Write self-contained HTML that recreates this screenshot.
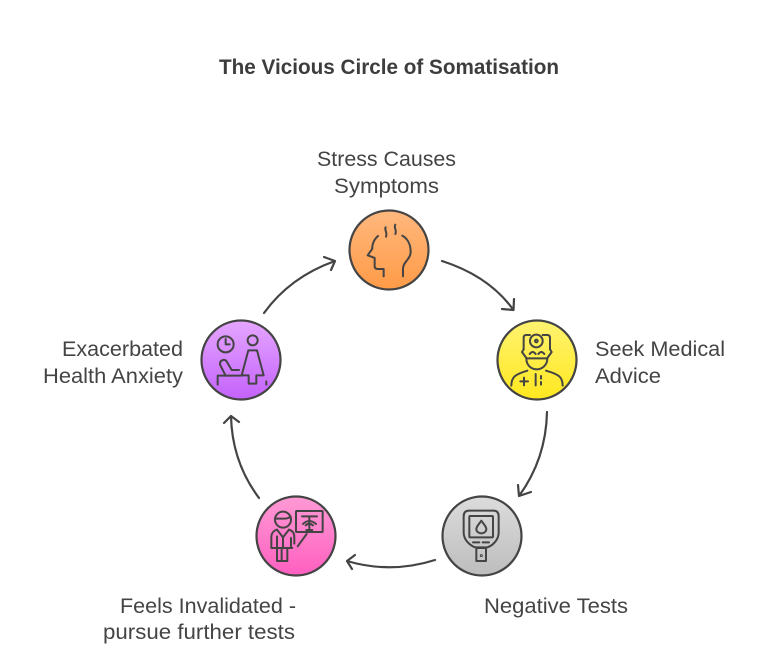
<!DOCTYPE html>
<html><head><meta charset="utf-8"><style>
html,body{margin:0;padding:0;background:#fff;width:765px;height:672px;overflow:hidden}
svg{display:block}
text{font-family:"Liberation Sans",sans-serif;font-size:21px;fill:#444}
.i{fill:none;stroke:#444;stroke-width:6;stroke-linecap:round;stroke-linejoin:round}
.c{stroke:#444;stroke-width:2.2}
.a{fill:none;stroke:#444;stroke-width:2.2;stroke-linecap:round;stroke-linejoin:round}
</style></head><body>
<svg width="765" height="672" viewBox="0 0 765 672" xmlns="http://www.w3.org/2000/svg">
<defs>
<linearGradient id="o" x1="0" y1="0" x2="0" y2="1"><stop offset="0" stop-color="#ffb87e"/><stop offset="1" stop-color="#ff9b47"/></linearGradient>
<linearGradient id="y" x1="0" y1="0" x2="0" y2="1"><stop offset="0" stop-color="#fff270"/><stop offset="1" stop-color="#ffe81f"/></linearGradient>
<linearGradient id="g" x1="0" y1="0" x2="0" y2="1"><stop offset="0" stop-color="#dcdcdc"/><stop offset="1" stop-color="#bdbdbd"/></linearGradient>
<linearGradient id="p" x1="0" y1="0" x2="0" y2="1"><stop offset="0" stop-color="#ff9ad5"/><stop offset="1" stop-color="#ff5fc0"/></linearGradient>
<linearGradient id="v" x1="0" y1="0" x2="0" y2="1"><stop offset="0" stop-color="#e5a6ff"/><stop offset="1" stop-color="#c462fb"/></linearGradient>
</defs>
<rect width="765" height="672" fill="#fff"/>
<text x="219" y="74" font-weight="700" textLength="340" lengthAdjust="spacingAndGlyphs" style="font-weight:700;fill:#3d3d3d">The Vicious Circle of Somatisation</text>
<text x="317" y="166" textLength="139" lengthAdjust="spacingAndGlyphs">Stress Causes</text>
<text x="334" y="193" textLength="105" lengthAdjust="spacingAndGlyphs">Symptoms</text>
<text x="595" y="356" textLength="130" lengthAdjust="spacingAndGlyphs">Seek Medical</text>
<text x="595" y="383" textLength="66" lengthAdjust="spacingAndGlyphs">Advice</text>
<text x="484" y="613" textLength="144" lengthAdjust="spacingAndGlyphs">Negative Tests</text>
<text x="120" y="613" textLength="176" lengthAdjust="spacingAndGlyphs">Feels Invalidated -</text>
<text x="103" y="639" textLength="192" lengthAdjust="spacingAndGlyphs">pursue further tests</text>
<text x="62" y="356" textLength="121" lengthAdjust="spacingAndGlyphs">Exacerbated</text>
<text x="43" y="383" textLength="140" lengthAdjust="spacingAndGlyphs">Health Anxiety</text>

<path class="a" d="M442 261Q489 276 513.5 310M502 309L513.5 310L514 299"/>
<path class="a" d="M547 412Q546 459 519 496M518 485L519 496L531 492"/>
<path class="a" d="M435 560Q391 574 347 561M355 555L347 561L352 569"/>
<path class="a" d="M259 498Q232 462 231 416M224 423L231 416L239 422"/>
<path class="a" d="M264 313Q290 277 335 261M324 257L335 261L331 270"/>

<circle class="c" cx="389" cy="250" r="39.5" fill="url(#o)"/>
<circle class="c" cx="537" cy="360" r="39.5" fill="url(#y)"/>
<circle class="c" cx="482" cy="536" r="39.5" fill="url(#g)"/>
<circle class="c" cx="296" cy="536" r="39.5" fill="url(#p)"/>
<circle class="c" cx="241" cy="360" r="39.5" fill="url(#v)"/>

<g transform="translate(340 200) scale(.3333)" class="i">
<path d="M114 108C100 120 96 136 97 146L83 166L104 174V200Q104 206 112 207H131V229"/>
<path d="M187 107C206 118 212 138 212 155C212 178 189 186 189 206V229"/>
<path d="M137 82C132 90 143 96 138 110M166 74C160 84 172 90 166 102"/>
</g>
<g transform="translate(490 312) scale(.3333)" class="i">
<circle cx="139" cy="87" r="19"/><circle cx="139" cy="87" r="4"/>
<path d="M120 69H108Q101 69 101 78V112M158 69H172Q180 69 180 78V112"/>
<path d="M101 112L96 120L109 138M180 112L185 120L172 138"/>
<path d="M119 126Q128 114 137 126M145 126Q154 114 163 126"/>
<path d="M109 139H172C172 158 158 172 140 172C122 172 109 158 109 139Z"/>
<path d="M64 221C64 194 78 186 112 176M218 221C218 194 204 186 168 176"/>
<path d="M91 208H114M102 197V220M137 186V220M153 192V200M153 210V218"/>
</g>
<g transform="translate(432 488) scale(.3333)" class="i">
<path d="M112 68H184Q200 68 200 85V134C200 160 176 175 166 178H130C120 175 95 160 95 134V85Q95 68 112 68Z"/>
<rect x="112" y="84" width="71" height="64" rx="3"/>
<path d="M148 98C140 110 133 116 133 123C133 131 140 136 148 136C156 136 163 131 163 123C163 116 156 110 148 98Z"/>
<path d="M123 163H142M152 163H171"/>
<rect x="133" y="180" width="29" height="39"/>
<circle cx="148" cy="203" r="1.5"/>
</g>
<g transform="translate(247 488) scale(.3333)" class="i">
<circle cx="108" cy="95" r="24"/>
<path d="M85 92H112Q122 92 131 86"/>
<path d="M90 125C78 128 73 138 73 148V180H84M126 125C138 128 142 138 142 148V167"/>
<path d="M90 125L108 148L126 125M108 148V180M84 180H136"/>
<path d="M90 145V219H104V182M104 219H121V182M132 150V180"/>
<rect x="147" y="69" width="80" height="63" rx="2"/>
<path d="M165 85H210M187 85V126M178 126H196M168 108Q187 90 207 108M176 112Q187 102 198 112"/>
<path d="M152 175L179 138"/>
</g>
<g transform="translate(191 312) scale(.3333)" class="i">
<circle cx="104" cy="97" r="24"/>
<path d="M104 81V97H116"/>
<circle cx="185" cy="85" r="15"/>
<path d="M172 115H198L218 190H196V215H173V190H152Z"/>
<path d="M80 218V191H152"/>
<path d="M104 191L88 160Q84 148 96 144Q104 142 108 150L122 174H144"/>
<path d="M226 208V218"/>
</g>
</svg>
</body></html>
